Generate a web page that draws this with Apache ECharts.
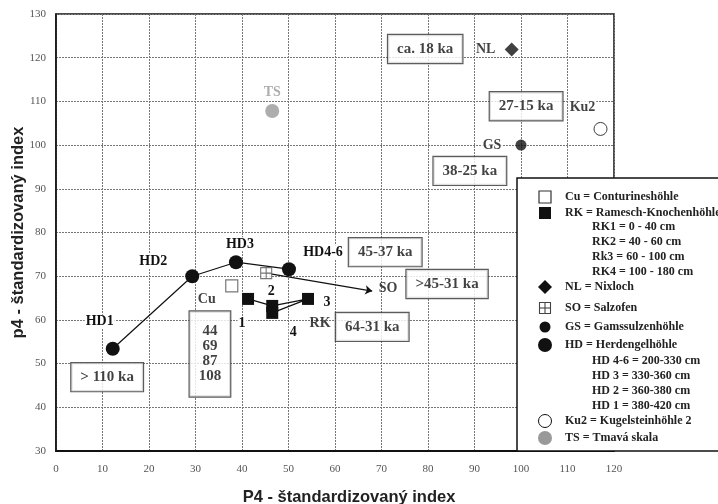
<!DOCTYPE html>
<html>
<head>
<meta charset="utf-8">
<script src="https://cdn.jsdelivr.net/npm/echarts@6/dist/echarts.min.js"></script>
<style>
  html, body { margin: 0; padding: 0; background: #fff; }
  #chart { width: 718px; height: 504px; }
</style>
</head>
<body>
<div id="chart"></div>
<script>
// ---- axis ranges ----
const xMin = 0, xMax = 120, xStep = 10;
const yMin = 30, yMax = 130, yStep = 10;

// ---- Herdengelhöhle profile, HD1 -> HD4-6 ----
const hdNames = ['HD1', 'HD2', 'HD3', 'HD4-6'];
const hdX = [12.2, 29.3, 38.7, 50.1];
const hdY = [53.4, 70.0, 73.2, 71.6];

// ---- Ramesch-Knochenhöhle layers 1..4 ----
const rkNames = ['1', '2', '3', '4'];
const rkX = [41.3, 46.5, 54.2, 46.5];
const rkY = [64.8, 63.2, 64.8, 61.6];

// ---- single sites ----
const cuPoint = [37.8, 67.8];    // Conturineshöhle
const soPoint = [45.2, 70.7];    // Salzofen
const nlPoint = [98.0, 121.9];   // Nixloch
const gsPoint = [100.0, 100.0];  // Gamssulzenhöhle
const ku2Point = [117.1, 103.7]; // Kugelsteinhöhle 2
const tsPoint = [46.5, 107.8];   // Tmavá skala

// ---- Salzofen arrow end ----
const soArrowEnd = [68.0, 66.6];

// ---- age boxes ----
const ageTexts = ['ca. 18 ka', '27-15 ka', '38-25 ka', '45-37 ka', '>45-31 ka', '64-31 ka', '> 110 ka'];
const ageX = [79.4, 101.1, 89.0, 70.8, 84.1, 68.0, 11.0];
const ageY = [122.0, 108.9, 94.1, 75.5, 68.2, 58.4, 46.9];

// Conturines ages
const cuAges = ['44', '69', '87', '108'];
const cuAgesAt = [33.1, 52.2];

// ---- free text labels ----
const noteTexts = ['SO', 'RK'];
const noteX = [71.4, 56.8];
const noteY = [67.3, 59.3];

// ---- legend rows ----
const legendSymbols = ['openSquare', 'square', null, null, null, null, 'diamond', 'crossSquare', 'smallCircle', 'circle', null, null, null, null, 'openCircle', 'greyCircle'];
const legendTexts = [
  'Cu = Conturineshöhle',
  'RK = Ramesch-Knochenhöhle',
  'RK1 = 0 - 40 cm',
  'RK2 = 40 - 60 cm',
  'Rk3 = 60 - 100 cm',
  'RK4 = 100 - 180 cm',
  'NL = Nixloch',
  'SO = Salzofen',
  'GS = Gamssulzenhöhle',
  'HD = Herdengelhöhle',
  'HD 4-6 = 200-330 cm',
  'HD 3 = 330-360 cm',
  'HD 2 = 360-380 cm',
  'HD 1 = 380-420 cm',
  'Ku2 = Kugelsteinhöhle 2',
  'TS = Tmavá skala'
];

// ================= layout & styling =================
const SERIF = '"Liberation Serif", "Times New Roman", serif';
const SANS = '"Liberation Sans", Arial, sans-serif';
const INK = '#111';

// label offsets (px) relative to their marker
const hdLabelOffset = [[-13, -27], [-39, -15], [4, -18], [34, -17]];
const rkLabelOffset = [[-6, 24], [-1, -15], [19, 3], [21, 19]];

const pointLabel = (offset, color) => ({
  show: true,
  position: 'inside',
  offset: offset,
  fontFamily: SERIF,
  fontWeight: 'bold',
  fontSize: 14,
  color: color || INK,
  backgroundColor: '#fff',
  padding: [0, 1]
});

const zip = (xs, ys) => xs.map((x, i) => [x, ys[i]]);

const soSymbol = 'path://M0,0L10,0L10,10L0,10Z M5,0L5,10 M0,5L10,5';

const series = [
  // HD profile line
  {
    type: 'line',
    data: zip(hdX, hdY).map((p, i) => ({ value: p, label: pointLabel(hdLabelOffset[i]) })),
    symbol: 'circle', symbolSize: 14,
    itemStyle: { color: INK },
    lineStyle: { color: INK, width: 1.2 },
    label: { formatter: p => hdNames[p.dataIndex] },
    z: 5
  },
  // RK layers
  {
    type: 'line',
    data: zip(rkX, rkY).map((p, i) => ({ value: p, label: pointLabel(rkLabelOffset[i]) })),
    symbol: 'rect', symbolSize: 12,
    itemStyle: { color: INK },
    lineStyle: { color: INK, width: 1.2 },
    label: { formatter: p => rkNames[p.dataIndex] },
    z: 5
  },
  // Salzofen arrow
  {
    type: 'lines',
    coordinateSystem: 'cartesian2d',
    symbol: ['none', 'arrow'],
    symbolSize: 7,
    lineStyle: { color: INK, width: 1.2, opacity: 1 },
    data: [{ coords: [soPoint, soArrowEnd] }],
    z: 4
  },
  // Conturines
  {
    type: 'scatter', symbol: 'rect', symbolSize: 12,
    itemStyle: { color: '#fff', borderColor: '#555', borderWidth: 1.2 },
    data: [{ value: cuPoint, label: Object.assign(pointLabel([-25, 14]), { formatter: 'Cu' }) }],
    z: 6
  },
  // Salzofen
  {
    type: 'scatter', symbol: soSymbol, symbolSize: 11,
    itemStyle: { color: '#fff', borderColor: '#555', borderWidth: 1.1 },
    data: [{ value: soPoint }],
    z: 6
  },
  // Nixloch
  {
    type: 'scatter', symbol: 'diamond', symbolSize: 14,
    itemStyle: { color: INK },
    data: [{ value: nlPoint, label: Object.assign(pointLabel([-26, 0]), { formatter: 'NL' }) }],
    z: 6
  },
  // Gamssulzenhöhle
  {
    type: 'scatter', symbol: 'circle', symbolSize: 11,
    itemStyle: { color: INK },
    data: [{ value: gsPoint, label: Object.assign(pointLabel([-29, 0]), { formatter: 'GS' }) }],
    z: 6
  },
  // Kugelsteinhöhle 2
  {
    type: 'scatter', symbol: 'circle', symbolSize: 13,
    itemStyle: { color: '#fff', borderColor: INK, borderWidth: 1 },
    data: [{ value: ku2Point, label: Object.assign(pointLabel([-18, -22]), { formatter: 'Ku2' }) }],
    z: 6
  },
  // Tmavá skala
  {
    type: 'scatter', symbol: 'circle', symbolSize: 14,
    itemStyle: { color: '#999' },
    data: [{ value: tsPoint, label: Object.assign(pointLabel([0, -19], '#999'), { formatter: 'TS' }) }],
    z: 6
  },
  // age boxes
  {
    type: 'scatter', symbolSize: 0, silent: true,
    data: zip(ageX, ageY),
    label: {
      show: true, position: 'inside',
      formatter: p => ageTexts[p.dataIndex],
      fontFamily: SERIF, fontWeight: 'bold', fontSize: 15, color: INK,
      backgroundColor: '#fff', borderColor: '#333', borderWidth: 1.2,
      padding: [7, 9, 6, 9]
    },
    z: 7
  },
  // Conturines ages box
  {
    type: 'scatter', symbolSize: 0, silent: true,
    data: [cuAgesAt],
    label: {
      show: true, position: 'inside',
      formatter: () => cuAges.join('\n'),
      fontFamily: SERIF, fontWeight: 'bold', fontSize: 15, lineHeight: 15, color: INK,
      backgroundColor: '#fff', borderColor: '#333', borderWidth: 1.2,
      padding: [11, 9, 14, 9]
    },
    z: 7
  },
  // free text
  {
    type: 'scatter', symbolSize: 0, silent: true,
    data: zip(noteX, noteY),
    label: {
      show: true, position: 'inside',
      formatter: p => noteTexts[p.dataIndex],
      fontFamily: SERIF, fontWeight: 'bold', fontSize: 14, color: INK
    },
    z: 7
  }
];

// ---- legend panel (drawn above the plot grid) ----
const legendLeft = 517, legendTop = 178;
const legendRowY = [197, 213, 227, 242, 257, 272, 287, 308, 327, 345, 361, 376, 391, 406, 421, 438];
const legendSymX = 545, legendTextX = 565, legendSubX = 592;
const LZ = 100;

function legendSymbol(kind, cx, cy) {
  switch (kind) {
    case 'openSquare':
      return [{ type: 'rect', z: LZ, shape: { x: cx - 6, y: cy - 6, width: 12, height: 12 }, style: { fill: '#fff', stroke: '#333', lineWidth: 1.2 } }];
    case 'square':
      return [{ type: 'rect', z: LZ, shape: { x: cx - 6, y: cy - 6, width: 12, height: 12 }, style: { fill: INK } }];
    case 'diamond':
      return [{ type: 'polygon', z: LZ, shape: { points: [[cx, cy - 7], [cx + 7, cy], [cx, cy + 7], [cx - 7, cy]] }, style: { fill: INK } }];
    case 'crossSquare':
      return [
        { type: 'rect', z: LZ, shape: { x: cx - 5.5, y: cy - 5.5, width: 11, height: 11 }, style: { fill: '#fff', stroke: '#444', lineWidth: 1.1 } },
        { type: 'line', z: LZ + 1, shape: { x1: cx, y1: cy - 5.5, x2: cx, y2: cy + 5.5 }, style: { stroke: '#444', lineWidth: 1.1 } },
        { type: 'line', z: LZ + 1, shape: { x1: cx - 5.5, y1: cy, x2: cx + 5.5, y2: cy }, style: { stroke: '#444', lineWidth: 1.1 } }
      ];
    case 'smallCircle':
      return [{ type: 'circle', z: LZ, shape: { cx, cy, r: 5.5 }, style: { fill: INK } }];
    case 'circle':
      return [{ type: 'circle', z: LZ, shape: { cx, cy, r: 7 }, style: { fill: INK } }];
    case 'openCircle':
      return [{ type: 'circle', z: LZ, shape: { cx, cy, r: 6.5 }, style: { fill: '#fff', stroke: INK, lineWidth: 1 } }];
    case 'greyCircle':
      return [{ type: 'circle', z: LZ, shape: { cx, cy, r: 7 }, style: { fill: '#999' } }];
  }
  return [];
}

const legendElements = [{
  type: 'rect', z: LZ - 1,
  shape: { x: legendLeft, y: legendTop, width: 220, height: 451 - legendTop },
  style: { fill: '#fff', stroke: INK, lineWidth: 1.5 }
}];
legendTexts.forEach((t, i) => {
  const y = legendRowY[i];
  const kind = legendSymbols[i];
  legendElements.push(...legendSymbol(kind, legendSymX, y));
  legendElements.push({
    type: 'text', z: LZ,
    style: {
      x: kind ? legendTextX : legendSubX, y: y,
      text: t, fill: '#222',
      font: `bold 12px ${SERIF}`,
      verticalAlign: 'middle', align: 'left'
    }
  });
});

const option = {
  animation: false,
  backgroundColor: '#fff',
  grid: {
    left: 56, right: 104, top: 14, bottom: 53,
    outerBoundsMode: 'none',
    show: true, borderColor: INK, borderWidth: 1.5, backgroundColor: 'transparent'
  },
  xAxis: {
    type: 'value', min: xMin, max: xMax, interval: xStep,
    name: 'P4 - štandardizovaný index',
    nameLocation: 'middle', nameGap: 38, nameMoveOverlap: false,
    nameTextStyle: { fontFamily: SANS, fontWeight: 'bold', fontSize: 16.5, color: '#222', padding: [0, 0, 0, 28] },
    axisLine: { show: true, onZero: false, lineStyle: { color: INK, width: 2 } },
    axisTick: { show: false },
    axisLabel: { fontFamily: SERIF, fontSize: 11, color: '#555', margin: 13 },
    splitLine: { show: true, lineStyle: { color: '#777', width: 1, type: [2, 1] } }
  },
  yAxis: {
    type: 'value', min: yMin, max: yMax, interval: yStep,
    name: 'p4 - štandardizovaný index',
    nameLocation: 'middle', nameGap: 29, nameMoveOverlap: false,
    nameTextStyle: { fontFamily: SANS, fontWeight: 'bold', fontSize: 16.5, color: '#222' },
    axisLine: { show: true, lineStyle: { color: INK, width: 1.5 } },
    axisTick: { show: false },
    axisLabel: { fontFamily: SERIF, fontSize: 11, color: '#555', margin: 10 },
    splitLine: { show: true, lineStyle: { color: '#777', width: 1, type: [2, 1] } }
  },
  series: series,
  graphic: legendElements
};

const chart = echarts.init(document.getElementById('chart'), null, { renderer: 'canvas' });
chart.setOption(option);
</script>
</body>
</html>
